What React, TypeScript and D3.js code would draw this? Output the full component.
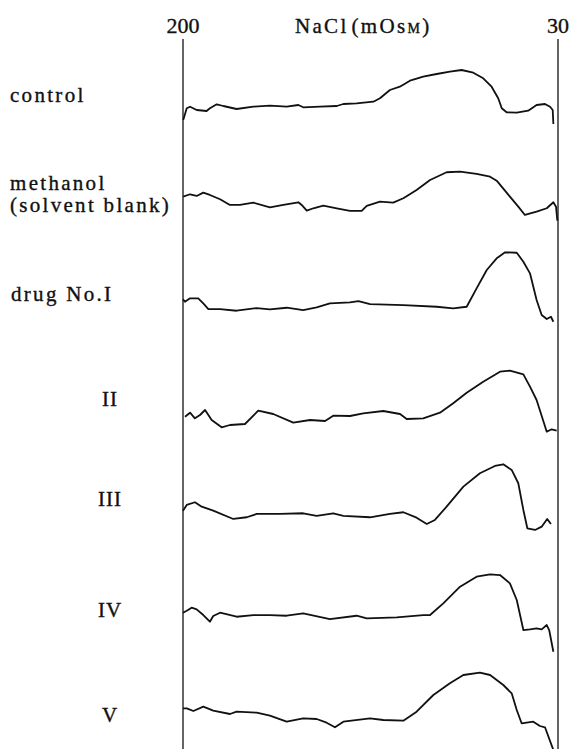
import React from "react";
import * as d3 from "d3";

// NaCl concentration axis (mOsM), scanned from 200 down to 30
const axisTicks = [200, 30];
const axisTitle = "NaCl";

const traceLabels = ["control", "methanol", "drug No.I", "II", "III", "IV", "V"];

// Each series: [NaCl mOsM, signal (arbitrary units above trace reference)]
const control: [number, number][] = [
  [199.9, 0], [198.3, 11.7], [196.8, 13.3], [193.8, 10], [189.3, 9], [187.8, 11.7], [184.7, 15.7],
  [181.7, 14], [175.7, 11], [168.1, 13.3], [160.6, 14.3], [153.0, 13.3], [147.7, 15], [145.5, 12.7],
  [137.9, 13.3], [130.3, 14], [127.3, 16], [121.3, 16.7], [113.7, 18.3], [110.7, 21.7], [106.2, 30],
  [101.7, 33.3], [97.1, 39.3], [91.1, 43.3], [85.0, 46], [79.0, 48.3], [73.7, 50], [68.4, 47.3],
  [63.9, 41.7], [60.1, 33.3], [57.1, 21.7], [55.5, 11.7], [53.3, 7.7], [48.7, 7.3], [43.5, 9.3],
  [39.7, 15], [35.9, 16], [33.6, 13.3], [32.4, 10], [32.1, -4],
];
const methanol: [number, number][] = [
  [199.9, 25], [196.8, 27.4], [193.8, 25.7], [190.8, 29], [187.8, 26.7], [183.2, 22.4], [178.7, 16.7],
  [174.2, 16.7], [168.1, 19], [160.6, 14.4], [154.5, 16.7], [147.7, 19.4], [146.2, 16.7], [143.9, 11],
  [140.9, 13.4], [136.4, 16], [130.3, 13.4], [124.3, 10.7], [119.0, 10.7], [116.7, 15.7], [110.7, 20],
  [104.7, 19], [100.1, 23.4], [94.1, 31.7], [88.0, 41.7], [80.5, 49.4], [74.4, 50], [66.9, 47.7],
  [60.8, 45], [57.8, 41], [51.8, 25], [48.0, 15], [45.0, 6.7], [39.7, 10], [35.1, 13.4], [32.1, 19.4],
  [30.9, 15], [30.3, 1],
];
const drugI: [number, number][] = [
  [200, 24], [199.1, 21.6], [196.8, 25], [193.1, 25], [190.8, 20], [188.5, 14.3], [183.2, 14.3],
  [175.7, 12.6], [166.6, 15.3], [160.6, 14], [153.0, 15.6], [145.5, 13.3], [139.4, 16], [133.4, 20],
  [124.3, 21], [120.5, 22.3], [115.2, 19.3], [100.1, 18.3], [85.0, 16.6], [77.5, 15], [71.4, 16.6],
  [66.9, 35], [62.3, 53.3], [57.8, 65], [54.0, 71], [48.7, 70.6], [45.7, 61.6], [42.7, 50],
  [39.7, 23.3], [37.4, 8.3], [35.1, 4.3], [33.2, 6.6], [32.1, 1.6],
];
const drugII: [number, number][] = [
  [199.1, 8.3], [196.8, 12.3], [194.6, 6.7], [192.3, 10], [190.0, 15], [187.0, 5], [182.5, -2.3],
  [178.7, 0], [171.9, 1], [165.9, 14.3], [159.1, 11], [150.0, 2.3], [142.4, 5], [135.6, 4],
  [131.9, 9.3], [124.3, 9], [118.3, 11.7], [109.2, 14], [101.6, 11], [98.6, 6], [91.1, 6.7],
  [83.5, 12.3], [77.5, 21.7], [71.4, 32.3], [63.9, 43.3], [56.3, 53.3], [51.8, 54.3], [45.7, 50.7],
  [42.7, 38.3], [39.7, 25], [35.1, -6.7], [32.9, -4.3], [30.6, -5.7],
];
const drugIII: [number, number][] = [
  [200, 16], [198.3, 21.7], [194.6, 24.4], [191.5, 20], [186.3, 16], [177.2, 7.7], [171.1, 9.4],
  [166.6, 12.7], [156.0, 12.7], [145.5, 13.4], [139.4, 10.7], [131.9, 13.4], [127.3, 10.7],
  [115.2, 9.4], [106.2, 12.7], [100.1, 14.4], [94.1, 9], [89.5, 2.7], [85.8, 6.7], [80.5, 20],
  [72.9, 40], [65.4, 53.4], [58.6, 60.7], [54.8, 62.4], [51.0, 56.7], [48.0, 43.4], [45.7, 16.7],
  [43.9, -1.6], [40.4, -3.3], [37.4, 0], [34.9, 7.7], [33.2, 2.7],
];
const drugIV: [number, number][] = [
  [200, 15.6], [198.3, 17.6], [196.1, 20.6], [193.8, 19], [190.8, 13.3], [187.8, 6.6], [186.3, 12.3],
  [183.2, 15.6], [175.7, 11.6], [168.1, 13.3], [160.6, 13.3], [153.0, 12.6], [145.5, 15], [133.4, 9.3],
  [121.3, 12.6], [116.7, 10], [103.1, 11], [91.1, 13.3], [88.0, 13.3], [82.0, 25], [74.4, 41.6],
  [66.9, 51.6], [60.8, 54], [56.3, 53.3], [51.8, 45], [48.7, 28.3], [45.7, -1.7], [42.7, -1],
  [39.7, 0], [37.4, -1], [35.1, 3.3], [34.0, -1.7], [32.1, -23.4],
];
const drugV: [number, number][] = [
  [200, 21.7], [198.3, 21.7], [195.3, 19], [190.8, 23.3], [186.3, 19.3], [178.7, 16], [175.7, 18.3],
  [166.6, 17.3], [160.6, 14.3], [153.0, 8.3], [145.5, 11.7], [139.4, 11], [134.9, 7.3], [131.1, 2.7],
  [127.3, 8.3], [115.2, 11.7], [109.2, 10], [100.1, 9.3], [94.1, 18.3], [86.5, 35], [79.0, 46.7],
  [72.9, 55], [65.4, 57.3], [60.8, 55], [54.8, 45], [51.0, 36.7], [48.7, 20], [46.5, 6.7],
  [41.2, 8.3], [38.2, 4], [35.9, 2.7], [32.1, -20],
];

const series = [control, methanol, drugI, drugII, drugIII, drugIV, drugV];

// ---- layout ----
const W = 573;
const H = 749;
const FONT = "'Liberation Serif', 'DejaVu Serif', serif";
const INK = "#111";

const labelLayout = [
  { x: 10, y: [102], anchor: "start" },
  { x: 10, y: [190, 212], anchor: "start" },
  { x: 11, y: [301], anchor: "start" },
  { x: 110, y: [406], anchor: "middle" },
  { x: 110, y: [506], anchor: "middle" },
  { x: 110, y: [617], anchor: "middle" },
  { x: 110, y: [722], anchor: "middle" },
];

const textInk = { fill: INK, stroke: INK, strokeWidth: 0.35 };

export default function App() {
  const x = d3.scaleLinear().domain([200, 30]).range([183, 558]);
  const band = d3.scalePoint<number>().domain(d3.range(series.length)).range([120, 730]);

  const paths = series.map((s, i) => {
    const base = band(i)!;
    const y = d3.scaleLinear().domain([0, 100]).range([base, base - 100]);
    const line = d3
      .line<[number, number]>()
      .x((d) => x(d[0]))
      .y((d) => y(d[1]))
      .curve(d3.curveLinear);
    return line(s) || "";
  });

  return (
    <svg
      width={W}
      height={H}
      viewBox={`0 0 ${W} ${H}`}
      style={{ position: "absolute", left: 0, top: 0, background: "#fff" }}
      fontFamily={FONT}
    >
      <rect x={0} y={0} width={W} height={H} fill="#fff" />
      {/* axis boundary lines */}
      {axisTicks.map((t) => (
        <line key={t} x1={x(t)} x2={x(t)} y1={39} y2={H} stroke={INK} strokeWidth={1.3} />
      ))}
      {/* tick labels */}
      {axisTicks.map((t) => (
        <text key={"l" + t} x={x(t)} y={33} textAnchor="middle" fontSize={22} {...textInk}>
          {t}
        </text>
      ))}
      <text x={295} y={33} textAnchor="start" fontSize={21} letterSpacing={2.3} {...textInk}>
        {axisTitle}
        <tspan dx={3}>(mOs</tspan>
        <tspan fontSize={14} letterSpacing={0.5}>M</tspan>
        <tspan dx={2}>)</tspan>
      </text>
      {/* traces */}
      {paths.map((p, i) => (
        <path key={i} d={p} fill="none" stroke={INK} strokeWidth={1.8} strokeLinejoin="round" />
      ))}
      {/* trace labels */}
      {traceLabels.map((lab, i) => {
        const L = labelLayout[i];
        return (
          <g key={lab}>
            <text
              x={L.x}
              y={L.y[0]}
              textAnchor={L.anchor as any}
              fontSize={21}
              letterSpacing={L.anchor === "start" ? 2.3 : 1}
              {...textInk}
            >
              {lab}
            </text>
            {i === 1 && (
              <text x={L.x} y={L.y[1]} fontSize={21} letterSpacing={2.3} {...textInk}>
                (solvent blank)
              </text>
            )}
          </g>
        );
      })}
    </svg>
  );
}
